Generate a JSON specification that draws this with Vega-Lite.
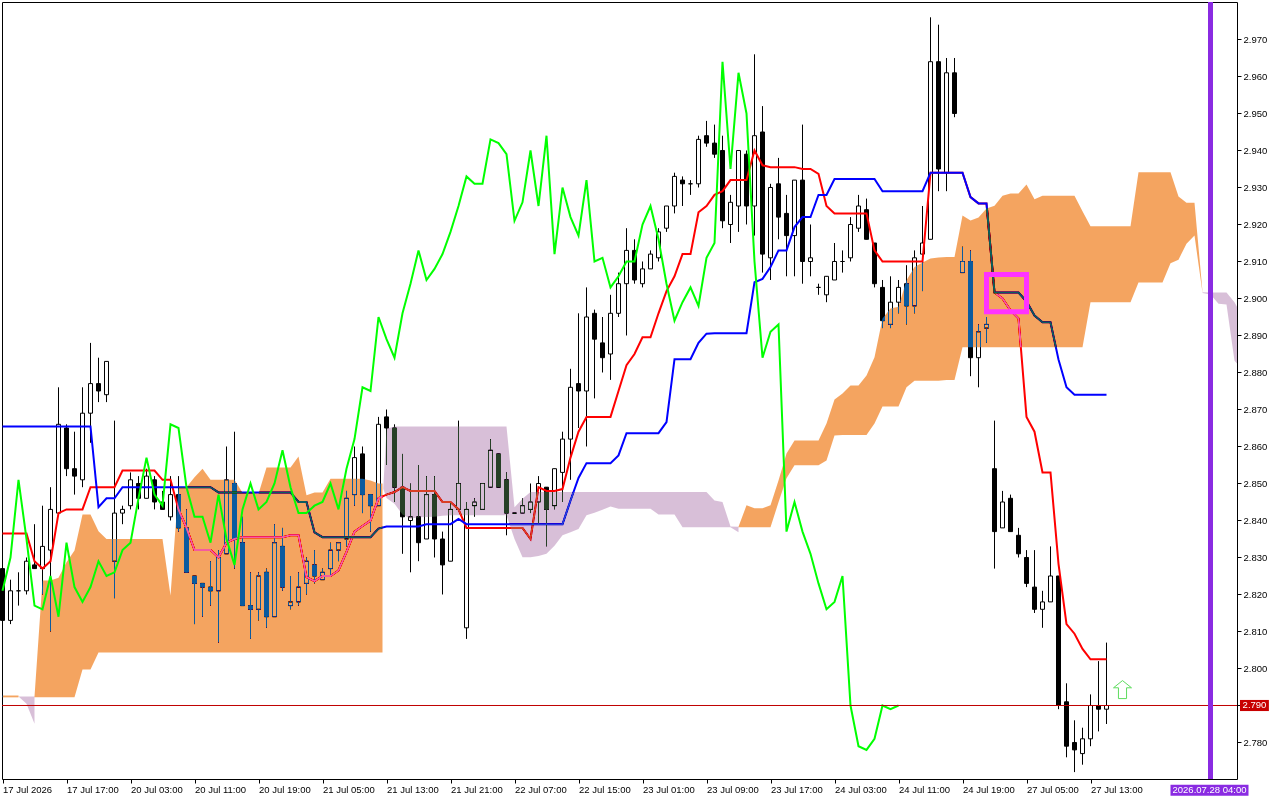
{
  "$schema": "https://vega.github.io/schema/vega-lite/v6.json",
  "width": 1235,
  "height": 777,
  "autosize": "none",
  "padding": {"left": 2, "top": 2, "right": 43, "bottom": 21},
  "background": "white",
  "config": {
    "view": {"stroke": "black", "strokeWidth": 1},
    "font": "Liberation Sans",
    "axis": {
      "grid": false,
      "domain": false,
      "title": null,
      "tickColor": "black",
      "tickSize": 4,
      "labelColor": "black",
      "labelFont": "Liberation Sans",
      "labelFontSize": 9.5,
      "labelOverlap": false,
      "labelBound": false,
      "labelFlush": false
    }
  },
  "datasets": {
    "bars": [
      {"i":0,"o":2.827,"h":2.827,"l":2.813,"c":2.813,"tenkan":2.8365,"kijun":2.8654,"chikou":2.821},
      {"i":1,"o":2.813,"h":2.824,"l":2.812,"c":2.821,"tenkan":2.8365,"kijun":2.8654,"chikou":2.83},
      {"i":2,"o":2.821,"h":2.826,"l":2.817,"c":2.821,"tenkan":2.8365,"kijun":2.8654,"chikou":2.851},
      {"i":3,"o":2.821,"h":2.83,"l":2.82,"c":2.829,"tenkan":2.8365,"kijun":2.8654,"chikou":2.835},
      {"i":4,"o":2.828,"h":2.839,"l":2.827,"c":2.827,"tenkan":2.829,"kijun":2.8654,"chikou":2.817},
      {"i":5,"o":2.827,"h":2.844,"l":2.82,"c":2.833,"tenkan":2.827,"kijun":2.8654,"chikou":2.816},
      {"i":6,"o":2.832,"h":2.849,"l":2.81,"c":2.843,"tenkan":2.829,"kijun":2.8654,"chikou":2.825},
      {"i":7,"o":2.842,"h":2.876,"l":2.842,"c":2.866,"tenkan":2.842,"kijun":2.8654,"chikou":2.814},
      {"i":8,"o":2.865,"h":2.866,"l":2.852,"c":2.854,"tenkan":2.843,"kijun":2.8654,"chikou":2.834},
      {"i":9,"o":2.854,"h":2.864,"l":2.847,"c":2.852,"tenkan":2.843,"kijun":2.8654,"chikou":2.822},
      {"i":10,"o":2.851,"h":2.876,"l":2.849,"c":2.869,"tenkan":2.843,"kijun":2.8654,"chikou":2.818},
      {"i":11,"o":2.869,"h":2.888,"l":2.861,"c":2.877,"tenkan":2.849,"kijun":2.8654,"chikou":2.822},
      {"i":12,"o":2.877,"h":2.884,"l":2.872,"c":2.875,"tenkan":2.849,"kijun":2.8436,"chikou":2.829},
      {"i":13,"o":2.874,"h":2.883,"l":2.872,"c":2.883,"tenkan":2.849,"kijun":2.846,"chikou":2.825},
      {"i":14,"o":2.829,"h":2.867,"l":2.819,"c":2.842,"tenkan":2.849,"kijun":2.846,"chikou":2.826},
      {"i":15,"o":2.842,"h":2.844,"l":2.839,"c":2.843,"tenkan":2.8535,"kijun":2.849,"chikou":2.832},
      {"i":16,"o":2.844,"h":2.853,"l":2.843,"c":2.851,"tenkan":2.8535,"kijun":2.849,"chikou":2.834},
      {"i":17,"o":2.85,"h":2.852,"l":2.843,"c":2.846,"tenkan":2.8535,"kijun":2.849,"chikou":2.846},
      {"i":18,"o":2.846,"h":2.854,"l":2.846,"c":2.852,"tenkan":2.8535,"kijun":2.849,"chikou":2.857},
      {"i":19,"o":2.851,"h":2.852,"l":2.843,"c":2.845,"tenkan":2.8535,"kijun":2.849,"chikou":2.847},
      {"i":20,"o":2.845,"h":2.848,"l":2.843,"c":2.843,"tenkan":2.851,"kijun":2.849,"chikou":2.844},
      {"i":21,"o":2.841,"h":2.852,"l":2.84,"c":2.847,"tenkan":2.851,"kijun":2.849,"chikou":2.866},
      {"i":22,"o":2.847,"h":2.852,"l":2.837,"c":2.838,"tenkan":2.843,"kijun":2.849,"chikou":2.865},
      {"i":23,"o":2.838,"h":2.843,"l":2.826,"c":2.826,"tenkan":2.838,"kijun":2.849,"chikou":2.849},
      {"i":24,"o":2.825,"h":2.825,"l":2.812,"c":2.823,"tenkan":2.832,"kijun":2.849,"chikou":2.841},
      {"i":25,"o":2.823,"h":2.823,"l":2.814,"c":2.822,"tenkan":2.832,"kijun":2.849,"chikou":2.841},
      {"i":26,"o":2.822,"h":2.829,"l":2.817,"c":2.821,"tenkan":2.832,"kijun":2.849,"chikou":2.834},
      {"i":27,"o":2.821,"h":2.832,"l":2.807,"c":2.83,"tenkan":2.83,"kijun":2.8476,"chikou":2.847},
      {"i":28,"o":2.831,"h":2.86,"l":2.831,"c":2.851,"tenkan":2.834,"kijun":2.8476,"chikou":2.835},
      {"i":29,"o":2.85,"h":2.864,"l":2.827,"c":2.835,"tenkan":2.835,"kijun":2.8476,"chikou":2.828},
      {"i":30,"o":2.834,"h":2.841,"l":2.817,"c":2.817,"tenkan":2.8355,"kijun":2.8476,"chikou":2.843},
      {"i":31,"o":2.817,"h":2.826,"l":2.808,"c":2.816,"tenkan":2.8355,"kijun":2.8476,"chikou":2.85},
      {"i":32,"o":2.816,"h":2.826,"l":2.813,"c":2.825,"tenkan":2.8355,"kijun":2.8476,"chikou":2.843},
      {"i":33,"o":2.826,"h":2.827,"l":2.811,"c":2.814,"tenkan":2.8355,"kijun":2.8476,"chikou":2.845},
      {"i":34,"o":2.814,"h":2.839,"l":2.814,"c":2.834,"tenkan":2.8355,"kijun":2.8476,"chikou":2.85},
      {"i":35,"o":2.833,"h":2.838,"l":2.821,"c":2.822,"tenkan":2.8355,"kijun":2.8476,"chikou":2.859},
      {"i":36,"o":2.817,"h":2.825,"l":2.816,"c":2.818,"tenkan":2.836,"kijun":2.8476,"chikou":2.849},
      {"i":37,"o":2.818,"h":2.826,"l":2.817,"c":2.822,"tenkan":2.836,"kijun":2.845,"chikou":2.842},
      {"i":38,"o":2.823,"h":2.83,"l":2.82,"c":2.829,"tenkan":2.8247,"kijun":2.845,"chikou":2.842},
      {"i":39,"o":2.828,"h":2.832,"l":2.823,"c":2.825,"tenkan":2.8236,"kijun":2.8368,"chikou":2.844},
      {"i":40,"o":2.824,"h":2.827,"l":2.824,"c":2.826,"tenkan":2.825,"kijun":2.8355,"chikou":2.845},
      {"i":41,"o":2.827,"h":2.834,"l":2.825,"c":2.832,"tenkan":2.825,"kijun":2.8355,"chikou":2.85},
      {"i":42,"o":2.832,"h":2.834,"l":2.829,"c":2.834,"tenkan":2.8265,"kijun":2.8355,"chikou":2.843},
      {"i":43,"o":2.835,"h":2.848,"l":2.833,"c":2.846,"tenkan":2.8315,"kijun":2.8355,"chikou":2.854},
      {"i":44,"o":2.847,"h":2.86,"l":2.844,"c":2.857,"tenkan":2.837,"kijun":2.8355,"chikou":2.862},
      {"i":45,"o":2.858,"h":2.86,"l":2.842,"c":2.847,"tenkan":2.8385,"kijun":2.8355,"chikou":2.876},
      {"i":46,"o":2.847,"h":2.847,"l":2.837,"c":2.844,"tenkan":2.84,"kijun":2.8355,"chikou":2.875},
      {"i":47,"o":2.844,"h":2.868,"l":2.844,"c":2.866,"tenkan":2.846,"kijun":2.8378,"chikou":2.895},
      {"i":48,"o":2.868,"h":2.87,"l":2.855,"c":2.865,"tenkan":2.847,"kijun":2.8384,"chikou":2.889},
      {"i":49,"o":2.865,"h":2.866,"l":2.845,"c":2.849,"tenkan":2.8477,"kijun":2.8384,"chikou":2.884},
      {"i":50,"o":2.849,"h":2.858,"l":2.831,"c":2.841,"tenkan":2.849,"kijun":2.8384,"chikou":2.896},
      {"i":51,"o":2.84,"h":2.85,"l":2.826,"c":2.841,"tenkan":2.848,"kijun":2.8384,"chikou":2.904},
      {"i":52,"o":2.841,"h":2.855,"l":2.829,"c":2.834,"tenkan":2.848,"kijun":2.8384,"chikou":2.913},
      {"i":53,"o":2.835,"h":2.852,"l":2.835,"c":2.847,"tenkan":2.848,"kijun":2.839,"chikou":2.905},
      {"i":54,"o":2.847,"h":2.852,"l":2.83,"c":2.835,"tenkan":2.848,"kijun":2.839,"chikou":2.908},
      {"i":55,"o":2.835,"h":2.837,"l":2.82,"c":2.828,"tenkan":2.845,"kijun":2.839,"chikou":2.912},
      {"i":56,"o":2.829,"h":2.845,"l":2.829,"c":2.843,"tenkan":2.845,"kijun":2.839,"chikou":2.918},
      {"i":57,"o":2.843,"h":2.867,"l":2.843,"c":2.85,"tenkan":2.843,"kijun":2.8404,"chikou":2.925},
      {"i":58,"o":2.811,"h":2.845,"l":2.808,"c":2.843,"tenkan":2.838,"kijun":2.839,"chikou":2.933},
      {"i":59,"o":2.844,"h":2.846,"l":2.841,"c":2.845,"tenkan":2.838,"kijun":2.839,"chikou":2.931},
      {"i":60,"o":2.843,"h":2.85,"l":2.843,"c":2.85,"tenkan":2.838,"kijun":2.839,"chikou":2.931},
      {"i":61,"o":2.849,"h":2.862,"l":2.849,"c":2.859,"tenkan":2.838,"kijun":2.839,"chikou":2.943},
      {"i":62,"o":2.858,"h":2.858,"l":2.849,"c":2.849,"tenkan":2.838,"kijun":2.839,"chikou":2.942},
      {"i":63,"o":2.851,"h":2.853,"l":2.836,"c":2.842,"tenkan":2.838,"kijun":2.839,"chikou":2.939},
      {"i":64,"o":2.842,"h":2.842,"l":2.842,"c":2.842,"tenkan":2.838,"kijun":2.839,"chikou":2.921},
      {"i":65,"o":2.842,"h":2.846,"l":2.842,"c":2.844,"tenkan":2.838,"kijun":2.839,"chikou":2.926},
      {"i":66,"o":2.843,"h":2.85,"l":2.842,"c":2.845,"tenkan":2.835,"kijun":2.839,"chikou":2.94},
      {"i":67,"o":2.845,"h":2.852,"l":2.839,"c":2.85,"tenkan":2.849,"kijun":2.839,"chikou":2.925},
      {"i":68,"o":2.849,"h":2.849,"l":2.833,"c":2.843,"tenkan":2.848,"kijun":2.839,"chikou":2.944},
      {"i":69,"o":2.844,"h":2.854,"l":2.843,"c":2.854,"tenkan":2.848,"kijun":2.839,"chikou":2.912},
      {"i":70,"o":2.853,"h":2.864,"l":2.845,"c":2.862,"tenkan":2.8485,"kijun":2.839,"chikou":2.93},
      {"i":71,"o":2.862,"h":2.881,"l":2.851,"c":2.876,"tenkan":2.857,"kijun":2.8454,"chikou":2.922},
      {"i":72,"o":2.877,"h":2.896,"l":2.865,"c":2.875,"tenkan":2.864,"kijun":2.8515,"chikou":2.917},
      {"i":73,"o":2.875,"h":2.903,"l":2.86,"c":2.895,"tenkan":2.868,"kijun":2.8555,"chikou":2.932},
      {"i":74,"o":2.896,"h":2.897,"l":2.873,"c":2.889,"tenkan":2.868,"kijun":2.8555,"chikou":2.91},
      {"i":75,"o":2.888,"h":2.895,"l":2.88,"c":2.884,"tenkan":2.868,"kijun":2.8555,"chikou":2.911},
      {"i":76,"o":2.885,"h":2.901,"l":2.878,"c":2.896,"tenkan":2.868,"kijun":2.8555,"chikou":2.903},
      {"i":77,"o":2.896,"h":2.907,"l":2.895,"c":2.904,"tenkan":2.875,"kijun":2.8576,"chikou":2.906},
      {"i":78,"o":2.904,"h":2.919,"l":2.89,"c":2.913,"tenkan":2.882,"kijun":2.8636,"chikou":2.91},
      {"i":79,"o":2.913,"h":2.916,"l":2.904,"c":2.905,"tenkan":2.885,"kijun":2.8636,"chikou":2.91},
      {"i":80,"o":2.904,"h":2.91,"l":2.903,"c":2.908,"tenkan":2.8895,"kijun":2.8636,"chikou":2.92},
      {"i":81,"o":2.908,"h":2.913,"l":2.908,"c":2.912,"tenkan":2.8895,"kijun":2.8636,"chikou":2.925},
      {"i":82,"o":2.911,"h":2.919,"l":2.91,"c":2.918,"tenkan":2.896,"kijun":2.8636,"chikou":2.916},
      {"i":83,"o":2.919,"h":2.925,"l":2.918,"c":2.925,"tenkan":2.902,"kijun":2.8666,"chikou":2.904},
      {"i":84,"o":2.925,"h":2.934,"l":2.923,"c":2.933,"tenkan":2.906,"kijun":2.8836,"chikou":2.894},
      {"i":85,"o":2.932,"h":2.933,"l":2.925,"c":2.931,"tenkan":2.912,"kijun":2.8836,"chikou":2.899},
      {"i":86,"o":2.931,"h":2.932,"l":2.928,"c":2.931,"tenkan":2.912,"kijun":2.8836,"chikou":2.903},
      {"i":87,"o":2.931,"h":2.944,"l":2.93,"c":2.943,"tenkan":2.9233,"kijun":2.888,"chikou":2.898},
      {"i":88,"o":2.944,"h":2.948,"l":2.941,"c":2.942,"tenkan":2.925,"kijun":2.8905,"chikou":2.911},
      {"i":89,"o":2.942,"h":2.947,"l":2.938,"c":2.939,"tenkan":2.928,"kijun":2.8906,"chikou":2.915},
      {"i":90,"o":2.94,"h":2.944,"l":2.919,"c":2.921,"tenkan":2.929,"kijun":2.8906,"chikou":2.964},
      {"i":91,"o":2.92,"h":2.928,"l":2.915,"c":2.926,"tenkan":2.932,"kijun":2.8906,"chikou":2.935},
      {"i":92,"o":2.925,"h":2.94,"l":2.918,"c":2.94,"tenkan":2.932,"kijun":2.8906,"chikou":2.961},
      {"i":93,"o":2.939,"h":2.94,"l":2.92,"c":2.925,"tenkan":2.932,"kijun":2.8906,"chikou":2.95},
      {"i":94,"o":2.925,"h":2.966,"l":2.917,"c":2.944,"tenkan":2.94,"kijun":2.9044,"chikou":2.91},
      {"i":95,"o":2.945,"h":2.952,"l":2.907,"c":2.912,"tenkan":2.936,"kijun":2.9053,"chikou":2.884},
      {"i":96,"o":2.911,"h":2.931,"l":2.905,"c":2.93,"tenkan":2.9355,"kijun":2.9085,"chikou":2.891},
      {"i":97,"o":2.931,"h":2.938,"l":2.916,"c":2.922,"tenkan":2.9355,"kijun":2.913,"chikou":2.893},
      {"i":98,"o":2.923,"h":2.928,"l":2.906,"c":2.917,"tenkan":2.9355,"kijun":2.913,"chikou":2.837},
      {"i":99,"o":2.917,"h":2.932,"l":2.906,"c":2.932,"tenkan":2.9355,"kijun":2.9193,"chikou":2.845},
      {"i":100,"o":2.932,"h":2.947,"l":2.904,"c":2.91,"tenkan":2.935,"kijun":2.922,"chikou":2.837},
      {"i":101,"o":2.91,"h":2.92,"l":2.906,"c":2.911,"tenkan":2.935,"kijun":2.922,"chikou":2.831},
      {"i":102,"o":2.903,"h":2.904,"l":2.901,"c":2.903,"tenkan":2.9337,"kijun":2.928,"chikou":2.823},
      {"i":103,"o":2.901,"h":2.906,"l":2.899,"c":2.906,"tenkan":2.925,"kijun":2.928,"chikou":2.816},
      {"i":104,"o":2.905,"h":2.915,"l":2.905,"c":2.91,"tenkan":2.923,"kijun":2.9323,"chikou":2.818},
      {"i":105,"o":2.91,"h":2.913,"l":2.907,"c":2.91,"tenkan":2.923,"kijun":2.9323,"chikou":2.825},
      {"i":106,"o":2.911,"h":2.922,"l":2.91,"c":2.92,"tenkan":2.923,"kijun":2.9323,"chikou":2.79},
      {"i":107,"o":2.919,"h":2.928,"l":2.918,"c":2.925,"tenkan":2.923,"kijun":2.9323,"chikou":2.779},
      {"i":108,"o":2.924,"h":2.927,"l":2.916,"c":2.916,"tenkan":2.923,"kijun":2.9323,"chikou":2.778},
      {"i":109,"o":2.915,"h":2.915,"l":2.903,"c":2.904,"tenkan":2.913,"kijun":2.9323,"chikou":2.781},
      {"i":110,"o":2.903,"h":2.905,"l":2.892,"c":2.894,"tenkan":2.91,"kijun":2.929,"chikou":2.79},
      {"i":111,"o":2.893,"h":2.906,"l":2.892,"c":2.899,"tenkan":2.91,"kijun":2.929,"chikou":2.789},
      {"i":112,"o":2.899,"h":2.905,"l":2.896,"c":2.903,"tenkan":2.91,"kijun":2.929,"chikou":2.79},
      {"i":113,"o":2.904,"h":2.909,"l":2.893,"c":2.898,"tenkan":2.91,"kijun":2.929},
      {"i":114,"o":2.898,"h":2.913,"l":2.896,"c":2.911,"tenkan":2.91,"kijun":2.929},
      {"i":115,"o":2.912,"h":2.925,"l":2.902,"c":2.915,"tenkan":2.91,"kijun":2.929},
      {"i":116,"o":2.916,"h":2.976,"l":2.916,"c":2.964,"tenkan":2.934,"kijun":2.934},
      {"i":117,"o":2.964,"h":2.974,"l":2.929,"c":2.935,"tenkan":2.934,"kijun":2.934},
      {"i":118,"o":2.934,"h":2.965,"l":2.929,"c":2.961,"tenkan":2.934,"kijun":2.934},
      {"i":119,"o":2.961,"h":2.965,"l":2.949,"c":2.95,"tenkan":2.934,"kijun":2.934},
      {"i":120,"o":2.907,"h":2.914,"l":2.907,"c":2.91,"tenkan":2.934,"kijun":2.934},
      {"i":121,"o":2.91,"h":2.913,"l":2.879,"c":2.884,"tenkan":2.9274,"kijun":2.9274},
      {"i":122,"o":2.884,"h":2.893,"l":2.876,"c":2.891,"tenkan":2.9257,"kijun":2.9257},
      {"i":123,"o":2.892,"h":2.895,"l":2.888,"c":2.893,"tenkan":2.9257,"kijun":2.9257},
      {"i":124,"o":2.854,"h":2.867,"l":2.827,"c":2.837,"tenkan":2.9016,"kijun":2.9016},
      {"i":125,"o":2.838,"h":2.848,"l":2.838,"c":2.845,"tenkan":2.9,"kijun":2.9016},
      {"i":126,"o":2.846,"h":2.847,"l":2.837,"c":2.837,"tenkan":2.8968,"kijun":2.9016},
      {"i":127,"o":2.836,"h":2.838,"l":2.83,"c":2.831,"tenkan":2.8946,"kijun":2.9016},
      {"i":128,"o":2.83,"h":2.832,"l":2.822,"c":2.823,"tenkan":2.868,"kijun":2.8992},
      {"i":129,"o":2.822,"h":2.832,"l":2.815,"c":2.816,"tenkan":2.864,"kijun":2.8954},
      {"i":130,"o":2.816,"h":2.821,"l":2.811,"c":2.818,"tenkan":2.853,"kijun":2.8936},
      {"i":131,"o":2.818,"h":2.833,"l":2.818,"c":2.825,"tenkan":2.853,"kijun":2.8936},
      {"i":132,"o":2.825,"h":2.825,"l":2.789,"c":2.79,"tenkan":2.8283,"kijun":2.8835},
      {"i":133,"o":2.791,"h":2.796,"l":2.776,"c":2.779,"tenkan":2.812,"kijun":2.876},
      {"i":134,"o":2.78,"h":2.786,"l":2.772,"c":2.778,"tenkan":2.8094,"kijun":2.874},
      {"i":135,"o":2.777,"h":2.784,"l":2.774,"c":2.781,"tenkan":2.8053,"kijun":2.874},
      {"i":136,"o":2.781,"h":2.793,"l":2.779,"c":2.79,"tenkan":2.8025,"kijun":2.874},
      {"i":137,"o":2.79,"h":2.802,"l":2.783,"c":2.789,"tenkan":2.8025,"kijun":2.874},
      {"i":138,"o":2.789,"h":2.807,"l":2.785,"c":2.79,"tenkan":2.8025,"kijun":2.874}
    ],
    "cloud": [
      {"seg":"a","kind":"bull","i":0,"top":2.7927,"bot":2.7922},
      {"seg":"a","kind":"bull","i":1,"top":2.7927,"bot":2.7922},
      {"seg":"a","kind":"bull","i":2,"top":2.7927,"bot":2.7922},
      {"seg":"b","kind":"bear","i":2,"top":2.7924,"bot":2.7924},
      {"seg":"b","kind":"bear","i":3,"top":2.7924,"bot":2.7905},
      {"seg":"b","kind":"bear","i":4,"top":2.7924,"bot":2.7851},
      {"seg":"c","kind":"bull","i":4,"top":2.7924,"bot":2.7922},
      {"seg":"c","kind":"bull","i":5,"top":2.8238,"bot":2.7922},
      {"seg":"c","kind":"bull","i":6,"top":2.8238,"bot":2.7922},
      {"seg":"c","kind":"bull","i":7,"top":2.8245,"bot":2.7922},
      {"seg":"c","kind":"bull","i":8,"top":2.8287,"bot":2.7922},
      {"seg":"c","kind":"bull","i":9,"top":2.8319,"bot":2.7922},
      {"seg":"c","kind":"bull","i":10,"top":2.8416,"bot":2.7997},
      {"seg":"c","kind":"bull","i":11,"top":2.8416,"bot":2.7997},
      {"seg":"c","kind":"bull","i":12,"top":2.8371,"bot":2.8043},
      {"seg":"c","kind":"bull","i":13,"top":2.835,"bot":2.8043},
      {"seg":"c","kind":"bull","i":20,"top":2.835,"bot":2.8043},
      {"seg":"c","kind":"bull","i":21,"top":2.8197,"bot":2.8043},
      {"seg":"c","kind":"bull","i":22,"top":2.849,"bot":2.8043},
      {"seg":"c","kind":"bull","i":23,"top":2.849,"bot":2.8043},
      {"seg":"c","kind":"bull","i":24,"top":2.8517,"bot":2.8043},
      {"seg":"c","kind":"bull","i":25,"top":2.854,"bot":2.8043},
      {"seg":"c","kind":"bull","i":26,"top":2.851,"bot":2.8043},
      {"seg":"c","kind":"bull","i":29,"top":2.851,"bot":2.8043},
      {"seg":"c","kind":"bull","i":30,"top":2.8475,"bot":2.8043},
      {"seg":"c","kind":"bull","i":31,"top":2.8475,"bot":2.8043},
      {"seg":"c","kind":"bull","i":32,"top":2.8472,"bot":2.8043},
      {"seg":"c","kind":"bull","i":33,"top":2.8543,"bot":2.8043},
      {"seg":"c","kind":"bull","i":36,"top":2.8543,"bot":2.8043},
      {"seg":"c","kind":"bull","i":37,"top":2.8573,"bot":2.8043},
      {"seg":"c","kind":"bull","i":38,"top":2.8468,"bot":2.8043},
      {"seg":"c","kind":"bull","i":39,"top":2.8476,"bot":2.8043},
      {"seg":"c","kind":"bull","i":40,"top":2.8476,"bot":2.8043},
      {"seg":"c","kind":"bull","i":41,"top":2.8513,"bot":2.8043},
      {"seg":"c","kind":"bull","i":45,"top":2.8513,"bot":2.8043},
      {"seg":"c","kind":"bull","i":46,"top":2.8508,"bot":2.8043},
      {"seg":"c","kind":"bull","i":47,"top":2.85,"bot":2.8043},
      {"seg":"c","kind":"bull","i":47.5,"top":2.85,"bot":2.8043},
      {"seg":"d","kind":"bear","i":47.6,"top":2.849,"bot":2.8485},
      {"seg":"d","kind":"bear","i":48,"top":2.8648,"bot":2.8461},
      {"seg":"d","kind":"bear","i":49,"top":2.8654,"bot":2.8445},
      {"seg":"d","kind":"bear","i":50,"top":2.8654,"bot":2.8416},
      {"seg":"d","kind":"bear","i":51,"top":2.8654,"bot":2.8405},
      {"seg":"d","kind":"bear","i":52,"top":2.8654,"bot":2.8409},
      {"seg":"d","kind":"bear","i":54,"top":2.8654,"bot":2.841},
      {"seg":"d","kind":"bear","i":55,"top":2.8654,"bot":2.8413},
      {"seg":"d","kind":"bear","i":56,"top":2.8654,"bot":2.8414},
      {"seg":"d","kind":"bear","i":63,"top":2.8654,"bot":2.8414},
      {"seg":"d","kind":"bear","i":64,"top":2.8436,"bot":2.835},
      {"seg":"d","kind":"bear","i":65,"top":2.8459,"bot":2.8301},
      {"seg":"d","kind":"bear","i":66,"top":2.8477,"bot":2.8301},
      {"seg":"d","kind":"bear","i":67,"top":2.8477,"bot":2.8304},
      {"seg":"d","kind":"bear","i":68,"top":2.8477,"bot":2.831},
      {"seg":"d","kind":"bear","i":69,"top":2.8477,"bot":2.8332},
      {"seg":"d","kind":"bear","i":70,"top":2.8477,"bot":2.836},
      {"seg":"d","kind":"bear","i":71,"top":2.8477,"bot":2.8368},
      {"seg":"d","kind":"bear","i":72,"top":2.8477,"bot":2.8377},
      {"seg":"d","kind":"bear","i":73,"top":2.8477,"bot":2.8414},
      {"seg":"d","kind":"bear","i":74,"top":2.8477,"bot":2.8421},
      {"seg":"d","kind":"bear","i":75,"top":2.8477,"bot":2.8429},
      {"seg":"d","kind":"bear","i":76,"top":2.8477,"bot":2.8438},
      {"seg":"d","kind":"bear","i":77,"top":2.8477,"bot":2.8432},
      {"seg":"d","kind":"bear","i":81,"top":2.8477,"bot":2.8432},
      {"seg":"d","kind":"bear","i":82,"top":2.8477,"bot":2.8416},
      {"seg":"d","kind":"bear","i":84,"top":2.8477,"bot":2.8416},
      {"seg":"d","kind":"bear","i":85,"top":2.8477,"bot":2.8382},
      {"seg":"d","kind":"bear","i":88,"top":2.8477,"bot":2.8382},
      {"seg":"d","kind":"bear","i":89,"top":2.8454,"bot":2.8382},
      {"seg":"d","kind":"bear","i":90,"top":2.845,"bot":2.8382},
      {"seg":"d","kind":"bear","i":91,"top":2.8384,"bot":2.8382},
      {"seg":"d","kind":"bear","i":92,"top":2.8383,"bot":2.8368},
      {"seg":"e","kind":"bull","i":92,"top":2.8383,"bot":2.8382},
      {"seg":"e","kind":"bull","i":93,"top":2.8441,"bot":2.8382},
      {"seg":"e","kind":"bull","i":94,"top":2.8433,"bot":2.8382},
      {"seg":"e","kind":"bull","i":95,"top":2.8433,"bot":2.8382},
      {"seg":"e","kind":"bull","i":96,"top":2.8441,"bot":2.8382},
      {"seg":"e","kind":"bull","i":97,"top":2.8508,"bot":2.8449},
      {"seg":"e","kind":"bull","i":98,"top":2.8581,"bot":2.8514},
      {"seg":"e","kind":"bull","i":99,"top":2.8616,"bot":2.8549},
      {"seg":"e","kind":"bull","i":102,"top":2.8616,"bot":2.8549},
      {"seg":"e","kind":"bull","i":103,"top":2.8662,"bot":2.8562},
      {"seg":"e","kind":"bull","i":104,"top":2.8727,"bot":2.863},
      {"seg":"e","kind":"bull","i":105,"top":2.8743,"bot":2.8631},
      {"seg":"e","kind":"bull","i":106,"top":2.8765,"bot":2.8631},
      {"seg":"e","kind":"bull","i":107,"top":2.8765,"bot":2.8631},
      {"seg":"e","kind":"bull","i":108,"top":2.8792,"bot":2.8631},
      {"seg":"e","kind":"bull","i":109,"top":2.8841,"bot":2.8662},
      {"seg":"e","kind":"bull","i":110,"top":2.8946,"bot":2.8708},
      {"seg":"e","kind":"bull","i":111,"top":2.8973,"bot":2.8708},
      {"seg":"e","kind":"bull","i":112,"top":2.8978,"bot":2.8708},
      {"seg":"e","kind":"bull","i":113,"top":2.9049,"bot":2.876},
      {"seg":"e","kind":"bull","i":114,"top":2.9085,"bot":2.8778},
      {"seg":"e","kind":"bull","i":115,"top":2.9097,"bot":2.8778},
      {"seg":"e","kind":"bull","i":116,"top":2.9108,"bot":2.8778},
      {"seg":"e","kind":"bull","i":117,"top":2.9111,"bot":2.8778},
      {"seg":"e","kind":"bull","i":118,"top":2.9112,"bot":2.878},
      {"seg":"e","kind":"bull","i":119,"top":2.9112,"bot":2.878},
      {"seg":"e","kind":"bull","i":120,"top":2.9224,"bot":2.8868},
      {"seg":"e","kind":"bull","i":121,"top":2.9211,"bot":2.8868},
      {"seg":"e","kind":"bull","i":122,"top":2.9219,"bot":2.8868},
      {"seg":"e","kind":"bull","i":123,"top":2.9243,"bot":2.8868},
      {"seg":"e","kind":"bull","i":124,"top":2.9251,"bot":2.8868},
      {"seg":"e","kind":"bull","i":125,"top":2.9278,"bot":2.8868},
      {"seg":"e","kind":"bull","i":126,"top":2.9284,"bot":2.8868},
      {"seg":"e","kind":"bull","i":127,"top":2.9284,"bot":2.8868},
      {"seg":"e","kind":"bull","i":128,"top":2.9308,"bot":2.8868},
      {"seg":"e","kind":"bull","i":129,"top":2.9268,"bot":2.8868},
      {"seg":"e","kind":"bull","i":130,"top":2.9278,"bot":2.8868},
      {"seg":"e","kind":"bull","i":134,"top":2.9278,"bot":2.8868},
      {"seg":"e","kind":"bull","i":135,"top":2.9236,"bot":2.8868},
      {"seg":"e","kind":"bull","i":136,"top":2.9195,"bot":2.899},
      {"seg":"e","kind":"bull","i":141,"top":2.9195,"bot":2.899},
      {"seg":"e","kind":"bull","i":142,"top":2.9341,"bot":2.9043},
      {"seg":"e","kind":"bull","i":145,"top":2.9341,"bot":2.9043},
      {"seg":"e","kind":"bull","i":146,"top":2.9341,"bot":2.9095},
      {"seg":"e","kind":"bull","i":147,"top":2.9276,"bot":2.9105},
      {"seg":"e","kind":"bull","i":148,"top":2.9259,"bot":2.9148},
      {"seg":"e","kind":"bull","i":149,"top":2.9259,"bot":2.917},
      {"seg":"e","kind":"bull","i":150,"top":2.9018,"bot":2.9016},
      {"seg":"f","kind":"bear","i":150,"top":2.9017,"bot":2.9015},
      {"seg":"f","kind":"bear","i":151,"top":2.9016,"bot":2.9011},
      {"seg":"f","kind":"bear","i":152,"top":2.9016,"bot":2.8986},
      {"seg":"f","kind":"bear","i":153,"top":2.9016,"bot":2.8984},
      {"seg":"f","kind":"bear","i":154,"top":2.899,"bot":2.8832},
      {"seg":"f","kind":"bear","i":154.3125,"top":2.8978,"bot":2.8824}
    ],
    "tags": [
      {"label":"2.790","x0":154.69,"x1":158.3,"xc":156.5,"y0":2.7885,"y1":2.7915,"yc":2.79,"kind":"price"},
      {"label":"2026.07.28 04:00","x0":146.0,"x1":155.75,"xc":150.875,"y0":2.7656,"y1":2.7686,"yc":2.7671,"kind":"time"}
    ]
  },
  "layer": [
    {
      "data": {"name": "bars"},
      "mark": {"type": "rule", "color": "black", "strokeWidth": 1},
      "encoding": {
        "x": {
          "field": "i",
          "type": "quantitative",
          "scale": {"domain": [-0.0625, 154.3125], "padding": 0},
          "axis": {
            "values": [0, 8, 16, 24, 32, 40, 48, 56, 64, 72, 80, 88, 96, 104, 112, 120, 128, 136],
            "labelAlign": "left",
            "labelBaseline": "top",
            "labelPadding": 1,
            "labelExpr": "['17 Jul 2026','17 Jul 17:00','20 Jul 03:00','20 Jul 11:00','20 Jul 19:00','21 Jul 05:00','21 Jul 13:00','21 Jul 21:00','22 Jul 07:00','22 Jul 15:00','23 Jul 01:00','23 Jul 09:00','23 Jul 17:00','24 Jul 03:00','24 Jul 11:00','24 Jul 19:00','27 Jul 05:00','27 Jul 13:00'][datum.value / 8]"
          }
        },
        "y": {
          "field": "l",
          "type": "quantitative",
          "scale": {"domain": [2.770135, 2.980135]},
          "axis": {
            "orient": "right",
            "values": [2.78, 2.79, 2.8, 2.81, 2.82, 2.83, 2.84, 2.85, 2.86, 2.87, 2.88, 2.89, 2.9, 2.91, 2.92, 2.93, 2.94, 2.95, 2.96, 2.97],
            "labelExpr": "abs(datum.value - 2.79) < 0.001 ? '' : format(datum.value, '.3f')",
            "labelPadding": 2
          }
        },
        "y2": {"field": "h"}
      }
    },
    {
      "data": {"name": "bars"},
      "mark": {"type": "bar", "orient": "vertical", "size": 4, "stroke": "black", "strokeWidth": 1},
      "encoding": {
        "x": {"field": "i", "type": "quantitative", "scale": {"domain": [-0.0625, 154.3125], "padding": 0}},
        "y": {"field": "o", "type": "quantitative", "scale": {"domain": [2.770135, 2.980135]}},
        "y2": {"field": "c"},
        "fill": {
          "condition": {"test": "datum.c < datum.o", "value": "black"},
          "value": "white"
        }
      }
    },
    {
      "data": {"name": "bars"},
      "mark": {"type": "line", "color": "#ff0000", "strokeWidth": 2},
      "encoding": {
        "x": {"field": "i", "type": "quantitative", "scale": {"domain": [-0.0625, 154.3125], "padding": 0}},
        "y": {"field": "tenkan", "type": "quantitative", "scale": {"domain": [2.770135, 2.980135]}}
      }
    },
    {
      "data": {"name": "bars"},
      "mark": {"type": "line", "color": "#0000ff", "strokeWidth": 2},
      "encoding": {
        "x": {"field": "i", "type": "quantitative", "scale": {"domain": [-0.0625, 154.3125], "padding": 0}},
        "y": {"field": "kijun", "type": "quantitative", "scale": {"domain": [2.770135, 2.980135]}}
      }
    },
    {
      "data": {"name": "cloud"},
      "mark": {"type": "area", "blend": "difference"},
      "encoding": {
        "x": {"field": "i", "type": "quantitative", "scale": {"domain": [-0.0625, 154.3125], "padding": 0}},
        "y": {"field": "bot", "type": "quantitative", "scale": {"domain": [2.770135, 2.980135]}},
        "y2": {"field": "top"},
        "detail": {"field": "seg"},
        "color": {
          "field": "kind",
          "type": "nominal",
          "legend": null,
          "scale": {"domain": ["bull", "bear"], "range": ["#0b5b9f", "#274027"]}
        }
      }
    },
    {
      "data": {"name": "bars"},
      "mark": {"type": "line", "color": "#00ff00", "strokeWidth": 2},
      "encoding": {
        "x": {"field": "i", "type": "quantitative", "scale": {"domain": [-0.0625, 154.3125], "padding": 0}},
        "y": {"field": "chikou", "type": "quantitative", "scale": {"domain": [2.770135, 2.980135]}}
      }
    },
    {
      "data": {"values": [{"last": 2.79}]},
      "mark": {"type": "rule", "color": "#c00000", "strokeWidth": 1},
      "encoding": {
        "y": {"field": "last", "type": "quantitative", "scale": {"domain": [2.770135, 2.980135]}}
      }
    },
    {
      "data": {"values": [{"i": 151}]},
      "mark": {"type": "rule", "color": "#8a2be2", "strokeWidth": 5},
      "encoding": {
        "x": {"field": "i", "type": "quantitative", "scale": {"domain": [-0.0625, 154.3125], "padding": 0}}
      }
    },
    {
      "data": {"values": [{"x0": 123, "x1": 128, "y0": 2.8964, "y1": 2.9065}]},
      "mark": {"type": "rect", "filled": false, "stroke": "#ff33ff", "strokeWidth": 5},
      "encoding": {
        "x": {"field": "x0", "type": "quantitative", "scale": {"domain": [-0.0625, 154.3125], "padding": 0}},
        "x2": {"field": "x1"},
        "y": {"field": "y0", "type": "quantitative", "scale": {"domain": [2.770135, 2.980135]}},
        "y2": {"field": "y1"}
      }
    },
    {
      "data": {"values": [{"i": 140, "price": 2.7943}]},
      "mark": {
        "type": "point",
        "shape": "M0,-1L1,-0.2L0.45,-0.2L0.45,1L-0.45,1L-0.45,-0.2L-1,-0.2Z",
        "size": 324,
        "filled": true,
        "fill": "white",
        "stroke": "#5edc5e",
        "strokeWidth": 1,
        "opacity": 1
      },
      "encoding": {
        "x": {"field": "i", "type": "quantitative", "scale": {"domain": [-0.0625, 154.3125], "padding": 0}},
        "y": {"field": "price", "type": "quantitative", "scale": {"domain": [2.770135, 2.980135]}}
      }
    },
    {
      "data": {"name": "tags"},
      "mark": {"type": "rect"},
      "encoding": {
        "x": {"field": "x0", "type": "quantitative", "scale": {"domain": [-0.0625, 154.3125], "padding": 0}},
        "x2": {"field": "x1"},
        "y": {"field": "y0", "type": "quantitative", "scale": {"domain": [2.770135, 2.980135]}},
        "y2": {"field": "y1"},
        "fill": {
          "field": "kind",
          "type": "nominal",
          "legend": null,
          "scale": {"domain": ["price", "time"], "range": ["#c80000", "#8a2be2"]}
        }
      }
    },
    {
      "data": {"name": "tags"},
      "mark": {"type": "text", "color": "white", "font": "Liberation Sans", "fontSize": 9.5, "baseline": "middle", "align": "center"},
      "encoding": {
        "x": {"field": "xc", "type": "quantitative", "scale": {"domain": [-0.0625, 154.3125], "padding": 0}},
        "y": {"field": "yc", "type": "quantitative", "scale": {"domain": [2.770135, 2.980135]}},
        "text": {"field": "label"}
      }
    }
  ]
}
